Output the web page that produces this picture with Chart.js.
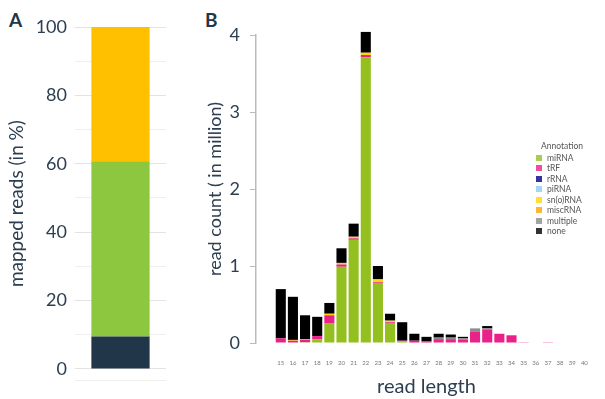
<!DOCTYPE html>
<html>
<head>
<meta charset="utf-8">
<script src="https://cdn.jsdelivr.net/npm/chart.js@4"></script>
<style>
  body { margin: 0; width: 605px; height: 399px; position: relative; background: #fff; overflow: hidden; font-family: Lato, sans-serif; }
  .panel { position: absolute; top: 0; height: 399px; }
  #wrapA { left: 0; width: 180px; }
  #wrapB { left: 195px; width: 410px; }
  .tag { position: absolute; font-weight: bold; font-size: 19px; color: #22364a; }
  #legend { position: absolute; left: 533px; top: 141px; font-size: 8.5px; color: #555; line-height: 10.5px; }
  #legend .ttl { padding-left: 8px; margin-bottom: 1px; }
  #legend .row { display: flex; align-items: center; }
  #legend .sw { width: 6px; height: 6px; margin: 0 5px 0 3px; opacity: 0.8; }
</style>
</head>
<body>
<div class="tag" style="left:9px;top:8px">A</div>
<div class="tag" style="left:205px;top:8px">B</div>
<div class="panel" id="wrapA"><canvas id="chartA"></canvas></div>
<div class="panel" id="wrapB"><canvas id="chartB"></canvas></div>
<div id="legend"></div>
<script>
// panel A: share of mapped reads (%)
const mappedParts = ["unmapped", "miRNA", "other"];
const mappedPercent = [9.5, 51.2, 39.3];
const mappedColors = ["#22364a", "#8dc63f", "#ffc000"];

// panel B: read counts (million) per read length
const readLengths = [15, 16, 17, 18, 19, 20, 21, 22, 23, 24, 25, 26, 27, 28, 29, 30, 31, 32, 33, 34, 35, 36, 37, 38, 39, 40];
const annotations = ["miRNA", "tRF", "rRNA", "piRNA", "sn(o)RNA", "miscRNA", "multiple", "none"];
const annotationColors = ["#93c01f", "#ea2189", "#00008b", "#87ceeb", "#ffd700", "#ffa500", "#8c8c8c", "#000000"];
const miRNA    = [0, 0, 0.01, 0.05, 0.26, 0.99, 1.34, 3.71, 0.78, 0.26, 0.02, 0, 0, 0, 0, 0, 0, 0, 0, 0, 0, 0, 0, 0, 0, 0];
const tRF      = [0.06, 0.03, 0.03, 0.04, 0.10, 0.03, 0.02, 0.03, 0.01, 0.01, 0.01, 0.03, 0.02, 0.05, 0.05, 0.04, 0.15, 0.17, 0.12, 0.10, 0.01, 0, 0.01, 0, 0, 0];
const rRNA     = [0, 0, 0, 0, 0, 0, 0, 0, 0, 0, 0, 0, 0, 0, 0, 0, 0, 0, 0, 0, 0, 0, 0, 0, 0, 0];
const piRNA    = [0, 0, 0, 0, 0, 0, 0, 0, 0, 0, 0, 0, 0, 0, 0, 0, 0, 0, 0, 0, 0, 0, 0, 0, 0, 0];
const snoRNA   = [0, 0.01, 0, 0, 0.02, 0.02, 0.02, 0.03, 0.03, 0.02, 0, 0, 0, 0, 0, 0, 0, 0, 0, 0, 0, 0, 0, 0, 0, 0];
const miscRNA  = [0, 0, 0.01, 0, 0, 0, 0, 0, 0.01, 0, 0, 0, 0, 0, 0, 0, 0, 0, 0, 0, 0, 0, 0, 0, 0, 0];
const multiple = [0, 0, 0, 0, 0, 0, 0, 0, 0, 0, 0, 0, 0, 0.02, 0.02, 0.02, 0.04, 0.02, 0, 0, 0, 0, 0, 0, 0, 0];
const none     = [0.64, 0.56, 0.31, 0.25, 0.14, 0.19, 0.17, 0.27, 0.17, 0.09, 0.24, 0.09, 0.06, 0.05, 0.04, 0.02, 0, 0.03, 0, 0, 0, 0, 0, 0, 0, 0];
const seriesB = [miRNA, tRF, rRNA, piRNA, snoRNA, miscRNA, multiple, none];

const textColor = "#2c3e50";
Chart.defaults.font.family = "Lato, sans-serif";
Chart.defaults.animation = false;

// ---- panel A ----
new Chart(document.getElementById("chartA"), {
  type: "bar",
  data: {
    labels: [""],
    datasets: mappedParts.map((name, i) => ({
      label: name,
      data: [mappedPercent[i]],
      backgroundColor: mappedColors[i],
      borderWidth: 0,
      barPercentage: 0.64,
      categoryPercentage: 1
    }))
  },
  options: {
    responsive: true,
    maintainAspectRatio: false,
    layout: { padding: { top: 27, bottom: 15, left: 0, right: 14 } },
    plugins: { legend: { display: false }, tooltip: { enabled: false } },
    scales: {
      x: { stacked: true, display: false },
      y: {
        stacked: true,
        min: -3.3,
        max: 100,
        afterFit: (s) => { s.width = 75; },
        afterBuildTicks: (s) => {
          s.ticks = [-3.3, 0, 10, 20, 30, 40, 50, 60, 70, 80, 90, 100].map(v => ({ value: v }));
        },
        ticks: {
          padding: 8,
          color: textColor,
          font: { size: 18 },
          callback: (v) => (v >= 0 && v % 20 === 0 ? v : "")
        },
        grid: {
          drawTicks: false,
          lineWidth: 1,
          color: (c) => (c.tick && c.tick.value % 20 === 0 ? "#e3e3e3" : "#efefef")
        },
        border: { display: false },
        title: {
          display: true,
          text: "mapped reads (in %)",
          color: textColor,
          font: { size: 19 },
          padding: { top: 5, bottom: 0 }
        }
      }
    }
  }
});

// ---- panel B ----
new Chart(document.getElementById("chartB"), {
  type: "bar",
  data: {
    datasets: annotations.map((name, i) => ({
      label: name,
      data: readLengths.map((len, j) => ({ x: len, y: seriesB[i][j] })),
      backgroundColor: annotationColors[i],
      borderWidth: 0,
      barPercentage: 0.83,
      categoryPercentage: 1,
      clip: false
    }))
  },
  options: {
    responsive: true,
    maintainAspectRatio: false,
    layout: { padding: { top: 35, bottom: 0, left: 0, right: 8 } },
    plugins: { legend: { display: false }, tooltip: { enabled: false } },
    scales: {
      x: {
        type: "linear",
        stacked: true,
        min: 13.5,
        max: 40.5,
        afterFit: (s) => { s.height = 56; },
        afterBuildTicks: (s) => { s.ticks = readLengths.map(v => ({ value: v })); },
        ticks: { padding: 16, color: "#777", font: { size: 6 }, maxRotation: 0, autoSkip: false },
        grid: { display: false, drawTicks: false },
        border: { display: false },
        title: {
          display: true,
          text: "read length",
          color: textColor,
          font: { size: 20 },
          padding: { top: 0, bottom: 0 }
        }
      },
      y: {
        stacked: true,
        min: 0,
        max: 4,
        afterFit: (s) => { s.width = 61; },
        ticks: { stepSize: 1, padding: 10, color: textColor, font: { size: 18 } },
        grid: { drawOnChartArea: false, tickLength: 6, color: "#bbbbbb" },
        border: { color: "#bbbbbb", width: 1.5 },
        title: {
          display: true,
          text: "read count ( in million)",
          color: textColor,
          font: { size: 18 },
          padding: { top: 9, bottom: 0 }
        }
      }
    }
  }
});

// legend for panel B
const legend = document.getElementById("legend");
legend.innerHTML = '<div class="ttl">Annotation</div>' + annotations.map((name, i) =>
  '<div class="row"><span class="sw" style="background:' + annotationColors[i] + '"></span>' + name + '</div>'
).join("");
</script>
</body>
</html>
